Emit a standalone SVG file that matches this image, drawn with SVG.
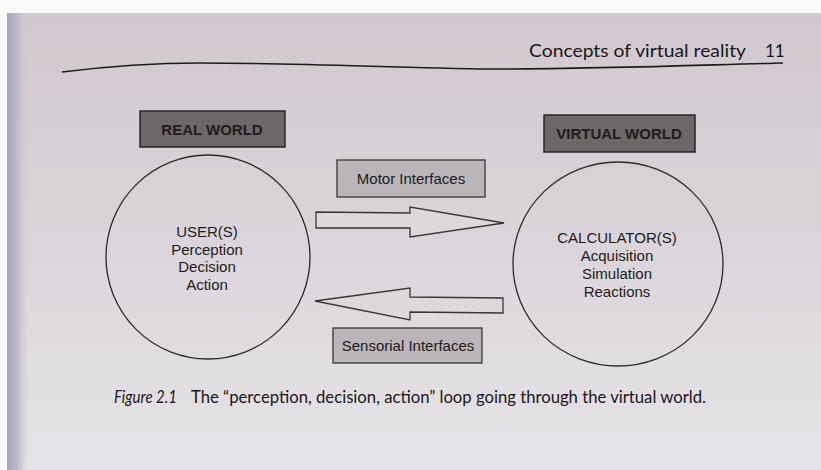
<svg xmlns="http://www.w3.org/2000/svg" width="821" height="470" viewBox="0 0 821 470">
  <defs>
    <linearGradient id="page" x1="0" y1="0" x2="0" y2="1">
      <stop offset="0" stop-color="#d2c8cf"/>
      <stop offset="0.5" stop-color="#dad5da"/>
      <stop offset="1" stop-color="#e6e4e8"/>
    </linearGradient>
    <linearGradient id="edge" x1="0" y1="0" x2="1" y2="0">
      <stop offset="0" stop-color="#a4a6b8"/>
      <stop offset="0.5" stop-color="#c0bcc8"/>
      <stop offset="1" stop-color="#d6cfd5" stop-opacity="0"/>
    </linearGradient>
    <style>
      .dark { fill: #6d6768; stroke: #2a2628; stroke-width: 1.5; }
      .light { fill: #bab5b8; stroke: #3a3638; stroke-width: 1.3; }
      .circ { fill: none; stroke: #2e2a2c; stroke-width: 1.3; }
      .arrow { fill: #dcd8dc; stroke: #3a3638; stroke-width: 1.3; stroke-linejoin: miter; }
      .lbl { font-family: "Liberation Sans", Arial, sans-serif; font-size: 15px; fill: #1e1b1d; text-anchor: middle; }
      .blbl { font-family: "Liberation Sans", Arial, sans-serif; font-size: 15px; font-weight: bold; fill: #1f1c1e; text-anchor: middle; }
      .book { font-family: Lato, "Open Sans", sans-serif; fill: #1a1719; }
    </style>
  </defs>
  <rect x="0" y="0" width="821" height="470" fill="#fbfbfc"/>
  <rect x="7" y="13" width="814" height="457" fill="url(#page)"/>
  <rect x="7" y="13" width="22" height="457" fill="url(#edge)"/>

  <text class="book" x="529" y="57" font-size="17.5" textLength="217" lengthAdjust="spacingAndGlyphs">Concepts of virtual reality</text>
  <text class="book" x="765" y="57" font-size="17">11</text>
  <path d="M62 72 C 110 66, 150 63, 200 63 C 300 63, 400 68, 490 69 C 600 69, 700 65, 783 63" fill="none" stroke="#1e1b1d" stroke-width="1.6"/>

  <g id="real-world">
    <rect class="dark" x="140" y="111" width="145" height="36"/>
    <text class="blbl" x="212" y="135">REAL WORLD</text>
  </g>
  <g id="virtual-world">
    <rect class="dark" x="544" y="115" width="151" height="37"/>
    <text class="blbl" x="619" y="139">VIRTUAL WORLD</text>
  </g>
  <g id="users">
    <circle class="circ" cx="208" cy="257" r="102"/>
    <text class="lbl" x="207" y="237">USER(S)</text>
    <text class="lbl" x="207" y="255">Perception</text>
    <text class="lbl" x="207" y="272">Decision</text>
    <text class="lbl" x="207" y="290">Action</text>
  </g>
  <g id="calculators">
    <ellipse class="circ" cx="618" cy="264" rx="105" ry="102"/>
    <text class="lbl" x="617" y="243">CALCULATOR(S)</text>
    <text class="lbl" x="617" y="261">Acquisition</text>
    <text class="lbl" x="617" y="279">Simulation</text>
    <text class="lbl" x="617" y="297">Reactions</text>
  </g>
  <g id="motor-interfaces">
    <rect class="light" x="337" y="160" width="148" height="37"/>
    <text class="lbl" x="411" y="184">Motor Interfaces</text>
  </g>
  <g id="sensorial-interfaces">
    <rect class="light" x="333" y="328" width="149" height="35"/>
    <text class="lbl" x="408" y="351">Sensorial Interfaces</text>
  </g>
  <g id="connectors">
    <polygon class="arrow" points="316,212 410,213 410,207 504,223 410,237 410,228 316,228"/>
    <polygon class="arrow" points="315,301 410,288 410,297 503,298 503,313 410,312 410,320"/>
  </g>

  <text class="book" x="114" y="403" font-size="17.5" font-style="italic" textLength="63" lengthAdjust="spacingAndGlyphs">Figure 2.1</text>
  <text class="book" x="191" y="403" font-size="17.5" textLength="515" lengthAdjust="spacingAndGlyphs">The “perception, decision, action” loop going through the virtual world.</text>
</svg>
